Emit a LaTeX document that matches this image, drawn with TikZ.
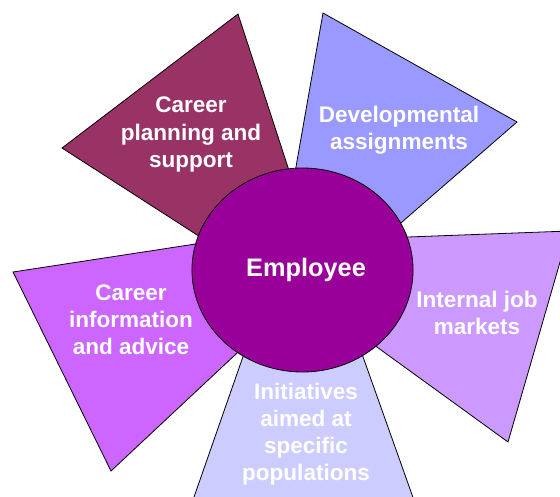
\documentclass[tikz,border=0pt]{standalone}
\usepackage{fontspec}
\setmainfont{Liberation Sans}
\usetikzlibrary{shapes.geometric}
\definecolor{plum}{HTML}{993366}
\definecolor{periwinkle}{HTML}{9999FF}
\definecolor{lilac}{HTML}{CC99FF}
\definecolor{lavender}{HTML}{CCCCFF}
\definecolor{orchid}{HTML}{CC66FF}
\definecolor{violet}{HTML}{990099}
\begin{document}
\begin{tikzpicture}[x=0.75pt,y=-0.75pt,
  petal/.style={draw=black,line width=0.6pt},
  lbl/.style={text=white,align=center,font=\fontsize{16.9}{20.3}\selectfont\bfseries}]
\useasboundingbox (0,0) rectangle (560,496);
\clip (0,0) rectangle (560,496);
%
\filldraw[petal,fill=plum] (238,14) -- (62,148) -- (340,327) -- cycle;
\filldraw[petal,fill=periwinkle] (323,13) -- (517,122) -- (265.5,340.7) -- cycle;
\filldraw[petal,fill=lilac] (569,231) -- (508,442) -- (234,243.5) -- cycle;
\filldraw[petal,fill=lavender] (302.4,186.3) -- (186,520) -- (421,520) -- cycle;
\filldraw[petal,fill=orchid] (13,272) -- (111,471) -- (384.5,215) -- cycle;
%
\node[ellipse,petal,fill=violet,inner sep=0pt,minimum width=165.8pt,minimum height=153pt] (hub) at (302.5,270) {};
\node[lbl,font=\fontsize{19}{22}\selectfont\bfseries] (emp) at (306,270) {Employee};
%
\node[lbl] (plan) at (191,134.5) {Career\\planning and\\support};
\node[lbl] (dev) at (399,130.5) {Developmental\\assignments};
\node[lbl] (market) at (477,313) {Internal job\\markets};
\node[lbl] (init) at (306,434) {Initiatives\\aimed at\\specific\\populations};
\node[lbl] (info) at (131,320) {Career\\information\\and advice};
\end{tikzpicture}
\end{document}
